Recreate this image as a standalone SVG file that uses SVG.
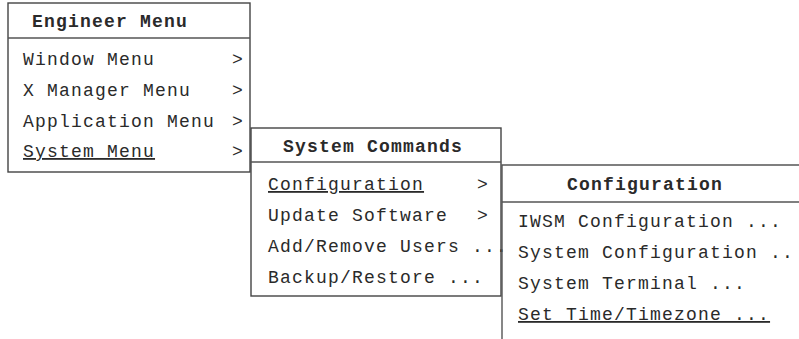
<svg xmlns="http://www.w3.org/2000/svg" width="799" height="339" viewBox="0 0 799 339">
<style>
.box{fill:#fff;stroke:#444;stroke-width:1.4}
.div{stroke:#555;stroke-width:1.4;fill:none}
.t{font-family:"Liberation Mono","Courier New",monospace;font-size:18px;letter-spacing:1.2px;fill:#2a2a2a}
.b{font-weight:bold}
.u{text-decoration:underline}
</style>
<rect width="799" height="339" fill="#fff"/>
<g id="engineer-menu">
<rect class="box" x="8" y="3" width="242" height="169"/>
<line class="div" x1="8" y1="38" x2="250" y2="38"/>
<text class="t b" x="32" y="27">Engineer Menu</text>
<text class="t" x="23" y="65">Window Menu</text>
<text class="t" x="232" y="65">&gt;</text>
<text class="t" x="23" y="96">X Manager Menu</text>
<text class="t" x="232" y="96">&gt;</text>
<text class="t" x="23" y="127">Application Menu</text>
<text class="t" x="232" y="127">&gt;</text>
<text class="t u" x="23" y="157">System Menu</text>
<text class="t" x="232" y="157">&gt;</text>
</g>
<g id="system-commands">
<rect class="box" x="251" y="128" width="250" height="168"/>
<line class="div" x1="251" y1="162" x2="501" y2="162"/>
<text class="t b" x="283" y="152">System Commands</text>
<text class="t u" x="268" y="190">Configuration</text>
<text class="t" x="477" y="190">&gt;</text>
<text class="t" x="268" y="221">Update Software</text>
<text class="t" x="477" y="221">&gt;</text>
<text class="t" x="268" y="252">Add/Remove Users ...</text>
<text class="t" x="268" y="283">Backup/Restore ...</text>
</g>
<g id="configuration">
<path class="div" d="M502,339 V165 H799"/>
<line class="div" x1="502" y1="202" x2="799" y2="202"/>
<text class="t b" x="567" y="190">Configuration</text>
<text class="t" x="518" y="227">IWSM Configuration ...</text>
<text class="t" x="518" y="258">System Configuration ..</text>
<text class="t" x="518" y="289">System Terminal ...</text>
<text class="t u" x="518" y="320">Set Time/Timezone ...</text>
</g>
<g id="connectors"></g>
</svg>
